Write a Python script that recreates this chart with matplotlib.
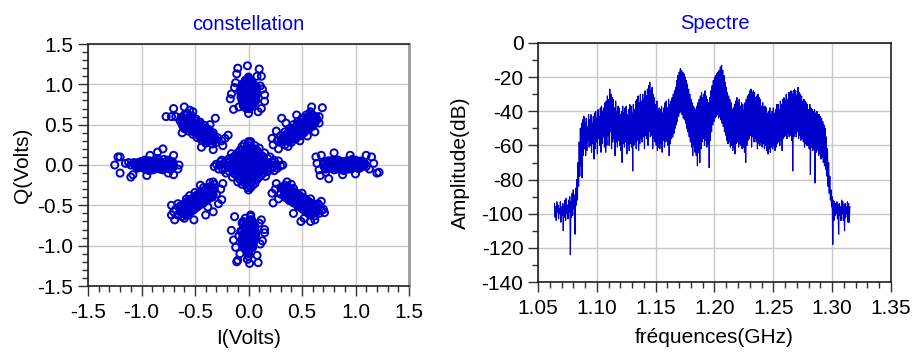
import numpy as np
import matplotlib
matplotlib.use("Agg")
import matplotlib.pyplot as plt
from matplotlib.ticker import MultipleLocator, FormatStrFormatter

plt.rcParams['font.family'] = ['Liberation Sans', 'DejaVu Sans']
plt.rcParams['axes.unicode_minus'] = False

# ---------------- constellation data (I, Q in Volts) ----------------
top_I = [0.00, -0.03, 0.03, 0.01, -0.05, 0.05, -0.02, 0.02, 0.00, -0.04, 0.04, 0.06, -0.06, 0.01, -0.01, 0.03, -0.03, 0.00, 0.02, -0.02,
         0.05, -0.05, 0.07, -0.07, 0.00, 0.03, -0.03, 0.01, -0.01, 0.04, -0.04, 0.02, -0.02, 0.00, 0.06, -0.06, 0.08, -0.08, 0.01, 0.00,
         -0.06, -0.04, -0.02, 0.00, 0.02, 0.04, 0.06, -0.05, -0.03, -0.01, 0.01, 0.03, 0.05, -0.06, -0.04, -0.02, 0.00, 0.02, 0.04, 0.06,
         -0.05, -0.03, -0.01, 0.01, 0.03, 0.05, -0.04, -0.02, 0.00, 0.02, 0.04, -0.03, 0.01, 0.03,
         -0.07, -0.05, -0.03, -0.01, 0.01, 0.03, 0.05, 0.07, -0.06, -0.02, 0.02, 0.06, -0.04, 0.00, 0.04, -0.07, 0.07, -0.01, 0.01, 0.00,
         -0.10, -0.01, 0.10, -0.11, 0.08, 0.12, -0.16, -0.17, 0.15, 0.15, -0.14, 0.00, 0.09, 0.12, -0.12, 0.11, -0.09, 0.13, -0.13]
top_Q = [0.85, 0.90, 0.80, 0.95, 0.86, 0.92, 1.00, 1.03, 0.75, 0.78, 0.74, 0.85, 0.96, 0.70, 0.72, 0.98, 1.05, 1.07, 0.88, 0.82,
         1.00, 0.74, 0.90, 0.88, 0.94, 0.86, 0.95, 0.78, 1.02, 0.82, 1.00, 0.92, 0.76, 0.80, 0.78, 0.82, 0.96, 0.92, 0.88, 0.98,
         0.80, 0.82, 0.84, 0.86, 0.88, 0.90, 0.92, 0.94, 0.96, 0.98, 1.00, 0.76, 0.78, 0.90, 0.92, 0.94, 0.76, 0.82, 0.86, 0.98,
         0.98, 0.86, 0.80, 0.90, 0.94, 0.84, 0.72, 0.70, 1.00, 0.74, 0.88, 1.04, 1.06, 1.02,
         0.84, 0.88, 0.93, 0.97, 0.83, 0.79, 0.97, 0.80, 1.00, 0.73, 0.96, 0.88, 0.91, 0.77, 0.79, 0.95, 0.85, 1.05, 0.72, 1.09,
         1.20, 1.23, 1.19, 1.13, 1.10, 1.10, 0.88, 0.82, 0.87, 0.79, 0.69, 0.64, 0.66, 0.70, 1.02, 0.98, 0.72, 0.94, 0.96]

bot_I = [0.00, 0.02, -0.02, 0.04, -0.04, 0.01, -0.01, 0.03, -0.03, 0.05, -0.05, 0.00, 0.02, -0.02, 0.06, -0.06, 0.01, -0.01, 0.00, 0.03,
         -0.03, 0.04, -0.04, 0.02, -0.02, 0.00, 0.05, -0.05, 0.07, -0.07, 0.01, -0.01, 0.03, -0.03, 0.00, 0.02,
         -0.05, -0.03, -0.01, 0.01, 0.03, 0.05, -0.04, -0.02, 0.00, 0.02, 0.04, -0.06, -0.04, -0.02, 0.00, 0.02, 0.04, 0.06,
         -0.05, -0.03, -0.01, 0.01, 0.03, 0.05, -0.04, -0.02, 0.00, 0.02, 0.04, -0.01, 0.01, 0.00,
         -0.07, -0.05, -0.03, -0.01, 0.01, 0.03, 0.05, 0.07, -0.06, -0.02, 0.02, 0.06, -0.04, 0.00, 0.04, -0.06, 0.06, -0.01, 0.01, 0.00,
         -0.11, -0.10, -0.01, 0.09, -0.16, -0.14, 0.15, 0.15, 0.12, -0.13, 0.10, -0.08, 0.08, -0.12, 0.11, -0.09, 0.13, 0.01]
bot_Q = [-0.70, -0.75, -0.72, -0.80, -0.78, -0.85, -0.82, -0.88, -0.90, -0.84, -0.86, -0.93, -0.95, -0.98, -0.76, -0.92, -1.00, -1.02, -1.05, -0.68,
         -0.66, -0.96, -0.99, -0.64, -0.88, -0.80, -0.74, -0.70, -0.90, -0.82, -0.92, -0.78, -1.03, -1.00, -1.08, -0.62,
         -0.72, -0.76, -0.80, -0.84, -0.88, -0.92, -0.96, -1.00, -0.70, -0.74, -0.78, -0.82, -0.86, -0.90, -0.94, -0.98, -1.02, -0.86,
         -0.74, -0.78, -0.92, -0.96, -1.00, -0.80, -0.88, -0.92, -0.84, -0.68, -0.98, -1.06, -1.04, -1.10,
         -0.82, -0.88, -0.94, -0.98, -0.73, -0.77, -0.90, -0.84, -0.96, -1.04, -0.70, -0.80, -1.02, -0.72, -0.94, -0.72, -0.90, -1.08, -0.95, -1.13,
         -1.20, -1.18, -1.17, -1.21, -0.81, -0.93, -0.80, -0.84, -0.68, -0.64, -0.72, -1.10, -1.12, -1.02, -0.98, -0.88, -0.94, -1.22]

right_I = [0.70, 0.74, 0.78, 0.82, 0.86, 0.90, 0.94, 0.98, 1.02, 1.06, 1.10, 0.72, 0.76, 0.80, 0.84, 0.88, 0.92, 0.96, 1.00, 1.04,
           1.08, 0.71, 0.75, 0.79, 0.83, 0.87, 0.91, 0.95, 0.99, 1.03, 0.73, 0.81, 0.89, 0.97, 1.05, 0.85, 0.93,
           0.70, 0.73, 0.76, 0.79, 0.82, 0.85, 0.88, 0.91, 0.94, 0.97, 1.00, 1.03, 1.06, 1.09,
           0.72, 0.75, 0.78, 0.81, 0.84, 0.87, 0.90, 0.93, 0.96, 0.99, 1.02, 1.05, 1.08, 0.77, 0.86, 0.95,
           0.71, 0.74, 0.77, 0.80, 0.83, 0.86, 0.89, 0.92, 0.95, 0.98, 1.01, 1.04, 1.07, 0.75, 0.84, 0.93, 1.02, 0.79, 0.88, 0.97,
           1.22, 1.20, 1.15, 1.10, 1.17, 0.75, 0.67, 0.63, 0.80, 0.68, 0.66, 0.95, 1.00, 0.88, 1.13, 0.72, 0.64]
right_Q = [0.00, 0.03, -0.03, 0.02, -0.02, 0.04, -0.04, 0.01, -0.01, 0.02, -0.02, -0.05, 0.05, -0.06, 0.06, 0.00, 0.05, -0.05, 0.06, -0.04,
           0.03, 0.04, -0.04, 0.05, -0.05, -0.03, 0.01, 0.03, -0.03, 0.00, -0.02, 0.00, -0.07, 0.07, 0.05, 0.00, -0.01,
           0.02, -0.02, 0.01, 0.03, -0.03, 0.02, 0.04, -0.01, 0.03, -0.03, 0.01, 0.03, -0.01, 0.01,
           -0.02, 0.01, -0.04, 0.00, -0.01, -0.04, -0.02, 0.03, -0.02, 0.02, -0.04, 0.03, -0.01, 0.00, 0.04, 0.00,
           -0.03, 0.05, 0.02, -0.03, 0.04, -0.02, 0.01, 0.05, -0.04, 0.00, 0.04, -0.03, 0.02, -0.01, 0.02, -0.05, 0.00, 0.06, -0.05, 0.05,
           -0.09, -0.10, 0.10, 0.12, 0.02, -0.17, -0.13, 0.10, 0.15, 0.12, -0.06, 0.12, -0.11, -0.12, -0.05, -0.09, 0.02]

left_I = [-0.70, -0.74, -0.78, -0.82, -0.86, -0.90, -0.94, -0.98, -1.02, -1.06, -1.10, -0.72, -0.76, -0.80, -0.84, -0.88, -0.92, -0.96, -1.00, -1.04,
          -0.71, -0.75, -0.79, -0.83, -0.87, -0.91, -0.95, -0.99, -1.03, -0.77, -0.85, -0.93, -0.81, -0.89, -0.97,
          -0.70, -0.73, -0.76, -0.79, -0.82, -0.85, -0.88, -0.91, -0.94, -0.97, -1.00, -1.03, -1.06,
          -0.72, -0.75, -0.78, -0.81, -0.84, -0.87, -0.90, -0.93, -0.96, -0.99, -1.02, -1.05, -0.80, -0.89, -0.98,
          -0.71, -0.74, -0.77, -0.80, -0.83, -0.86, -0.89, -0.92, -0.95, -0.98, -1.01, -1.04, -1.07, -0.75, -0.84, -0.93, -1.02, -0.79, -0.88, -0.97,
          -1.22, -1.20, -1.25, -1.20, -1.10, -1.12, -0.80, -0.70, -0.65, -0.70, -0.95, -0.92, -1.15, -0.66, -1.08, -0.85, -0.75]
left_Q = [0.00, 0.03, -0.03, 0.04, -0.02, 0.02, -0.04, 0.01, -0.01, 0.02, 0.00, -0.05, 0.05, -0.06, 0.06, 0.00, 0.05, -0.05, 0.04, -0.03,
          0.04, -0.04, 0.07, -0.05, 0.03, -0.03, 0.03, -0.02, 0.01, 0.00, 0.08, -0.07, 0.02, -0.06, 0.06,
          -0.02, 0.01, -0.01, 0.03, 0.01, -0.03, 0.03, -0.02, 0.02, 0.03, -0.02, 0.03, -0.01,
          0.02, 0.00, -0.02, -0.03, 0.02, -0.04, 0.04, 0.00, -0.03, 0.01, -0.03, 0.02, 0.00, 0.01, -0.04,
          0.02, -0.05, 0.04, 0.03, -0.03, 0.04, -0.05, 0.01, -0.01, 0.05, 0.04, -0.04, 0.03, 0.06, 0.00, 0.05, -0.02, -0.04, 0.03, -0.02,
          0.10, 0.10, 0.00, -0.10, -0.15, 0.03, 0.20, 0.12, 0.00, -0.12, -0.13, 0.12, 0.02, -0.05, -0.12, 0.16, -0.10]

ne_I = [0.30, 0.34, 0.38, 0.42, 0.46, 0.50, 0.54, 0.58, 0.62, 0.32, 0.36, 0.40, 0.44, 0.48, 0.52, 0.56, 0.60,
        0.34, 0.38, 0.42, 0.46, 0.50, 0.54, 0.58, 0.62, 0.30, 0.34, 0.38, 0.42, 0.46, 0.50, 0.54, 0.58,
        0.40, 0.44, 0.48, 0.52, 0.56, 0.60, 0.64,
        0.33, 0.37, 0.41, 0.45, 0.49, 0.53, 0.57, 0.61, 0.35, 0.39, 0.43, 0.47, 0.51, 0.55, 0.59,
        0.36, 0.40, 0.44, 0.48, 0.52, 0.56, 0.60, 0.31, 0.35, 0.39, 0.43, 0.47, 0.51, 0.55, 0.59, 0.63,
        0.32, 0.36, 0.40, 0.44, 0.48, 0.52, 0.56, 0.60, 0.34, 0.38, 0.42, 0.46, 0.50, 0.54, 0.58, 0.62, 0.37, 0.45, 0.53, 0.61,
        0.22, 0.23, 0.31, 0.59, 0.69, 0.62, 0.37, 0.28, 0.66, 0.26, 0.35, 0.48, 0.55, 0.66, 0.45, 0.27]
ne_Q = [0.28, 0.30, 0.34, 0.38, 0.42, 0.46, 0.50, 0.54, 0.58, 0.34, 0.38, 0.42, 0.46, 0.50, 0.54, 0.58, 0.62,
        0.25, 0.29, 0.33, 0.37, 0.40, 0.44, 0.48, 0.52, 0.36, 0.41, 0.45, 0.50, 0.54, 0.58, 0.62, 0.66,
        0.28, 0.32, 0.36, 0.40, 0.44, 0.48, 0.56,
        0.31, 0.35, 0.39, 0.43, 0.47, 0.51, 0.55, 0.59, 0.35, 0.40, 0.44, 0.48, 0.52, 0.56, 0.60,
        0.30, 0.35, 0.39, 0.43, 0.47, 0.51, 0.55, 0.31, 0.33, 0.37, 0.41, 0.45, 0.49, 0.53, 0.57, 0.60,
        0.29, 0.33, 0.37, 0.41, 0.45, 0.49, 0.53, 0.57, 0.37, 0.42, 0.46, 0.51, 0.56, 0.59, 0.63, 0.55, 0.31, 0.35, 0.43, 0.51,
        0.33, 0.25, 0.58, 0.72, 0.71, 0.41, 0.23, 0.20, 0.60, 0.42, 0.52, 0.30, 0.36, 0.52, 0.62, 0.30]

nw_I = [-0.30, -0.34, -0.38, -0.42, -0.46, -0.50, -0.54, -0.58, -0.62, -0.32, -0.36, -0.40, -0.44, -0.48, -0.52, -0.56, -0.60,
        -0.34, -0.38, -0.42, -0.46, -0.50, -0.54, -0.58, -0.62, -0.29, -0.33, -0.37, -0.41, -0.45, -0.49, -0.53, -0.57,
        -0.40, -0.44, -0.48, -0.52, -0.56, -0.60, -0.64,
        -0.33, -0.37, -0.41, -0.45, -0.49, -0.53, -0.57, -0.61, -0.35, -0.39, -0.43, -0.47, -0.51, -0.55, -0.59,
        -0.36, -0.40, -0.44, -0.48, -0.52, -0.56, -0.60, -0.31, -0.35, -0.39, -0.43, -0.47, -0.51, -0.55, -0.59, -0.63,
        -0.32, -0.36, -0.40, -0.44, -0.48, -0.52, -0.56, -0.60, -0.34, -0.38, -0.42, -0.46, -0.50, -0.54, -0.58, -0.62, -0.37, -0.45, -0.53, -0.61,
        -0.70, -0.77, -0.72, -0.60, -0.31, -0.19, -0.24, -0.33, -0.68, -0.55, -0.25, -0.44, -0.62, -0.36, -0.52, -0.22]
nw_Q = [0.28, 0.32, 0.35, 0.39, 0.42, 0.46, 0.50, 0.53, 0.57, 0.35, 0.39, 0.43, 0.47, 0.50, 0.54, 0.58, 0.62,
        0.26, 0.29, 0.33, 0.36, 0.40, 0.44, 0.47, 0.50, 0.34, 0.40, 0.44, 0.49, 0.53, 0.57, 0.61, 0.64,
        0.27, 0.31, 0.34, 0.38, 0.42, 0.45, 0.55,
        0.31, 0.34, 0.38, 0.41, 0.45, 0.48, 0.52, 0.55, 0.36, 0.40, 0.43, 0.47, 0.51, 0.54, 0.58,
        0.30, 0.34, 0.37, 0.41, 0.44, 0.48, 0.51, 0.32, 0.34, 0.36, 0.40, 0.44, 0.47, 0.52, 0.56, 0.59,
        0.30, 0.33, 0.37, 0.40, 0.44, 0.48, 0.51, 0.55, 0.38, 0.42, 0.46, 0.51, 0.55, 0.59, 0.62, 0.53, 0.31, 0.34, 0.42, 0.48,
        0.70, 0.60, 0.60, 0.72, 0.58, 0.37, 0.24, 0.19, 0.60, 0.68, 0.30, 0.22, 0.40, 0.50, 0.66, 0.33]

sw_I = [-0.32, -0.36, -0.40, -0.44, -0.48, -0.52, -0.56, -0.60, -0.64, -0.30, -0.34, -0.38, -0.42, -0.46, -0.50, -0.54, -0.58,
        -0.36, -0.40, -0.44, -0.48, -0.52, -0.56, -0.60, -0.64, -0.40, -0.44, -0.48, -0.52, -0.56, -0.62, -0.66,
        -0.32, -0.36, -0.42, -0.50, -0.58, -0.68, -0.66, -0.46,
        -0.34, -0.38, -0.42, -0.46, -0.50, -0.54, -0.58, -0.62, -0.33, -0.37, -0.41, -0.45, -0.49, -0.53, -0.57,
        -0.38, -0.42, -0.46, -0.50, -0.54, -0.58, -0.62, -0.35, -0.39, -0.43, -0.47, -0.51, -0.55, -0.59, -0.63, -0.60,
        -0.33, -0.37, -0.41, -0.45, -0.49, -0.53, -0.57, -0.61, -0.35, -0.39, -0.43, -0.47, -0.51, -0.55, -0.59, -0.63, -0.38, -0.46, -0.54, -0.62,
        -0.69, -0.72, -0.51, -0.33, -0.24, -0.25, -0.33, -0.70, -0.40, -0.28, -0.60, -0.72, -0.45, -0.26, -0.55, -0.38]
sw_Q = [-0.30, -0.33, -0.37, -0.40, -0.44, -0.47, -0.51, -0.54, -0.58, -0.36, -0.40, -0.43, -0.47, -0.50, -0.54, -0.58, -0.61,
        -0.27, -0.30, -0.34, -0.37, -0.41, -0.44, -0.48, -0.51, -0.44, -0.48, -0.52, -0.56, -0.62, -0.64, -0.62,
        -0.24, -0.22, -0.28, -0.34, -0.42, -0.55, -0.48, -0.42,
        -0.32, -0.35, -0.39, -0.42, -0.46, -0.49, -0.53, -0.56, -0.37, -0.41, -0.45, -0.48, -0.52, -0.56, -0.59,
        -0.29, -0.32, -0.36, -0.39, -0.43, -0.46, -0.50, -0.36, -0.38, -0.41, -0.44, -0.49, -0.52, -0.55, -0.55, -0.58,
        -0.28, -0.31, -0.35, -0.38, -0.42, -0.45, -0.49, -0.52, -0.38, -0.42, -0.46, -0.50, -0.55, -0.59, -0.62, -0.55, -0.33, -0.40, -0.48, -0.58,
        -0.68, -0.50, -0.68, -0.21, -0.23, -0.43, -0.58, -0.58, -0.62, -0.48, -0.66, -0.62, -0.25, -0.30, -0.38, -0.52]

se_I = [0.32, 0.36, 0.40, 0.44, 0.48, 0.52, 0.56, 0.60, 0.64, 0.30, 0.34, 0.38, 0.42, 0.46, 0.50, 0.54, 0.58,
        0.36, 0.40, 0.44, 0.48, 0.52, 0.56, 0.60, 0.64, 0.40, 0.44, 0.48, 0.52, 0.56, 0.62, 0.66,
        0.30, 0.34, 0.42, 0.50, 0.58, 0.68, 0.66, 0.46,
        0.34, 0.38, 0.42, 0.46, 0.50, 0.54, 0.58, 0.62, 0.33, 0.37, 0.41, 0.45, 0.49, 0.53, 0.57,
        0.38, 0.42, 0.46, 0.50, 0.54, 0.58, 0.62, 0.35, 0.39, 0.43, 0.47, 0.51, 0.55, 0.59, 0.63, 0.60,
        0.33, 0.37, 0.41, 0.45, 0.49, 0.53, 0.57, 0.61, 0.35, 0.39, 0.43, 0.47, 0.51, 0.55, 0.59, 0.63, 0.38, 0.46, 0.54, 0.62,
        0.22, 0.23, 0.26, 0.36, 0.71, 0.49, 0.58, 0.65, 0.28, 0.70, 0.42, 0.62, 0.25, 0.52, 0.40, 0.68]
se_Q = [-0.30, -0.34, -0.37, -0.41, -0.44, -0.48, -0.51, -0.55, -0.58, -0.36, -0.40, -0.44, -0.47, -0.51, -0.54, -0.58, -0.62,
        -0.27, -0.31, -0.34, -0.38, -0.41, -0.45, -0.48, -0.52, -0.43, -0.47, -0.51, -0.55, -0.60, -0.63, -0.60,
        -0.28, -0.25, -0.29, -0.35, -0.42, -0.56, -0.50, -0.42,
        -0.32, -0.36, -0.39, -0.43, -0.46, -0.50, -0.53, -0.57, -0.38, -0.42, -0.45, -0.49, -0.53, -0.56, -0.60,
        -0.29, -0.33, -0.36, -0.40, -0.43, -0.47, -0.50, -0.35, -0.39, -0.41, -0.45, -0.48, -0.52, -0.55, -0.56, -0.58,
        -0.28, -0.32, -0.35, -0.39, -0.42, -0.46, -0.49, -0.53, -0.38, -0.43, -0.46, -0.50, -0.55, -0.59, -0.61, -0.55, -0.33, -0.40, -0.48, -0.58,
        -0.35, -0.47, -0.23, -0.21, -0.59, -0.70, -0.70, -0.48, -0.42, -0.55, -0.60, -0.68, -0.30, -0.66, -0.24, -0.45]

ctr_I = [0.00, 0.04, -0.04, 0.08, -0.08, 0.00, 0.00, 0.05, -0.05, 0.05, -0.05,
         0.12, -0.12, 0.02, -0.02, 0.10, -0.10, 0.10, -0.10, 0.07, -0.07, 0.07, -0.07,
         0.16, -0.16, 0.00, 0.00, 0.14, -0.14, 0.14, -0.14, 0.03, -0.03, -0.03, 0.03,
         0.20, -0.20, 0.23, -0.23, 0.00, 0.00, 0.26, -0.27, 0.01, -0.01,
         0.30, -0.30, 0.00, 0.00,
         0.18, -0.18, 0.18, -0.18, 0.08, -0.08, 0.08, -0.08,
         0.24, -0.24, 0.24, -0.25, 0.06, -0.06, 0.06, -0.06,
         0.12, -0.12, 0.12, -0.12, 0.28, -0.28, 0.32, -0.32,
         0.15, -0.15, 0.16, -0.16, 0.20, -0.21, 0.10, -0.10,
         0.02, -0.02, 0.03, -0.03, 0.06, -0.06, 0.01, -0.01, 0.09, -0.09, 0.03, -0.03, 0.09, -0.09, 0.04, -0.04,
         0.12, -0.12, 0.12, -0.12, 0.05, -0.05, 0.05, -0.05, 0.18, -0.18, 0.18, -0.18, 0.02, -0.02, 0.02, -0.02,
         0.22, -0.22, 0.21, -0.21, 0.04, -0.04, 0.04, -0.04, 0.14, -0.14, 0.14, -0.14, 0.10, -0.10, 0.10, -0.10,
         0.27, -0.26, 0.02, 0.02,
         0.01, -0.01, 0.04, -0.04, 0.07, -0.07, 0.02, -0.02, 0.11, -0.11, 0.01, -0.01, 0.15, -0.15, 0.06, -0.06, 0.08, -0.08, 0.13, -0.13]
ctr_Q = [0.00, 0.02, -0.02, 0.00, 0.01, 0.06, -0.06, -0.05, 0.05, 0.06, -0.06,
         0.02, -0.02, 0.12, -0.12, 0.07, -0.07, -0.06, 0.06, 0.11, -0.11, -0.11, 0.11,
         0.00, 0.00, 0.16, -0.16, 0.05, -0.05, -0.04, 0.04, 0.20, -0.20, 0.19, -0.21,
         0.01, -0.01, -0.02, 0.02, 0.24, -0.25, 0.01, 0.00, 0.27, -0.28,
         -0.01, 0.01, 0.29, -0.31,
         0.08, -0.08, -0.08, 0.08, 0.18, -0.18, -0.18, 0.18,
         0.06, -0.06, -0.07, 0.06, 0.24, -0.24, -0.23, 0.23,
         0.12, -0.12, -0.12, 0.12, 0.05, -0.05, 0.00, -0.02,
         0.15, -0.15, -0.14, 0.14, 0.10, -0.10, 0.21, -0.21,
         0.03, 0.04, -0.03, -0.02, 0.01, -0.01, 0.08, -0.08, 0.03, -0.03, 0.09, -0.09, -0.03, 0.03, -0.09, 0.09,
         0.07, -0.07, -0.07, 0.07, 0.14, -0.14, -0.14, 0.14, 0.03, -0.03, -0.03, 0.03, 0.18, -0.18, -0.22, 0.22,
         0.04, -0.04, -0.05, 0.05, 0.21, -0.22, -0.25, 0.26, 0.10, -0.10, -0.10, 0.10, 0.14, -0.14, -0.15, 0.15,
         -0.04, 0.04, 0.29, -0.28,
         0.04, -0.04, 0.07, -0.07, 0.03, -0.03, 0.15, -0.15, 0.00, 0.00, 0.11, -0.11, 0.02, -0.02, 0.17, -0.17, -0.13, 0.13, -0.07, 0.07]

# ---------------- spectrum data (dB), sampled every 0.5 MHz ----------------
f_start, f_stop = 1.064, 1.315   # GHz
amp_dB = [
    -94, -102, -96, -104, -93, -99, -95, -103, -97, -100,
    -93, -105, -96, -101, -94, -110, -95, -102, -92, -104,
    -91, -100, -95, -103, -92, -99, -90, -124, -93, -102,
    -88, -101, -86, -97, -89, -112, -85, -95, -80, -92,
    -70, -84, -58, -78, -50, -72, -47, -79, -45, -66,
    -43, -62, -47, -66, -44, -63, -49, -57, -42, -61,
    -45, -60, -42, -64, -47, -59, -43, -68, -41, -62,
    -40, -58, -44, -65, -39, -56, -43, -60, -38, -64,
    -37, -59, -40, -55, -38, -61, -35, -64, -34, -60,
    -31, -54, -33, -60, -27, -52, -30, -62, -32, -58,
    -33, -56, -38, -66, -34, -58, -40, -61, -37, -57,
    -38, -60, -42, -63, -40, -70, -37, -59, -41, -61,
    -38, -58, -37, -65, -42, -60, -39, -63, -36, -59,
    -37, -61, -41, -75, -36, -60, -39, -58, -34, -62,
    -33, -57, -31, -63, -35, -59, -30, -56, -34, -58,
    -30, -55, -33, -62, -28, -54, -31, -56, -27, -60,
    -25, -52, -23, -55, -28, -54, -26, -62, -30, -56,
    -32, -58, -36, -60, -34, -63, -40, -61, -38, -62,
    -39, -59, -37, -64, -41, -57, -38, -61, -35, -58,
    -34, -57, -38, -60, -33, -66, -36, -59, -34, -56,
    -32, -55, -30, -53, -28, -50, -26, -48, -22, -46,
    -19, -43, -17, -41, -15, -40, -16, -42, -17, -44,
    -18, -45, -20, -47, -22, -50, -24, -52, -27, -55,
    -30, -58, -33, -61, -35, -66, -37, -60, -38, -64,
    -39, -66, -37, -72, -35, -64, -33, -70, -31, -62,
    -29, -58, -32, -56, -30, -60, -28, -57, -31, -61,
    -33, -59, -35, -73, -32, -57, -28, -52, -25, -48,
    -22, -46, -20, -44, -19, -43, -18, -42, -17, -44,
    -16, -43, -14, -45, -13, -47, -16, -49, -19, -52,
    -23, -54, -26, -57, -29, -59, -31, -58, -33, -61,
    -35, -60, -39, -63, -38, -61, -36, -65, -34, -59,
    -32, -58, -35, -61, -33, -59, -37, -60, -35, -62,
    -36, -61, -39, -64, -35, -70, -33, -60, -31, -57,
    -30, -56, -28, -54, -27, -61, -29, -55, -28, -58,
    -29, -56, -32, -58, -31, -62, -30, -59, -32, -60,
    -33, -58, -37, -61, -35, -59, -38, -62, -37, -60,
    -38, -63, -41, -65, -40, -62, -38, -64, -42, -61,
    -40, -62, -38, -60, -41, -63, -39, -61, -36, -59,
    -36, -58, -39, -60, -34, -57, -36, -63, -33, -56,
    -32, -55, -34, -54, -30, -56, -33, -53, -29, -55,
    -29, -54, -28, -57, -30, -75, -28, -55, -27, -53,
    -28, -55, -31, -52, -26, -56, -29, -54, -30, -57,
    -31, -56, -34, -58, -33, -61, -34, -59, -35, -60,
    -36, -60, -39, -62, -36, -77, -38, -61, -39, -63,
    -40, -62, -39, -82, -41, -64, -40, -63, -42, -66,
    -42, -65, -43, -68, -44, -67, -46, -70, -48, -72,
    -50, -74, -55, -78, -62, -84, -70, -88, -78, -92,
    -86, -96, -90, -118, -92, -104, -93, -101, -94, -100,
    -93, -103, -95, -112, -94, -101, -96, -104, -92, -100,
    -93, -104, -95, -110, -94, -102, -96, -100, -93, -105,
    -94, -105, -96,
]
freq = np.linspace(f_start, f_stop, len(amp_dB))

blue = '#0000cc'
title_blue = '#0000e0'

fig = plt.figure(figsize=(9.15, 3.52), dpi=100)
ax1 = fig.add_axes([88/915, 1-286/352, (409-88)/915, (286-44)/352])
ax2 = fig.add_axes([538/915, 1-282/352, (891-538)/915, (282-43)/352])

clusters = [(top_I, top_Q), (bot_I, bot_Q), (right_I, right_Q), (left_I, left_Q),
            (ne_I, ne_Q), (nw_I, nw_Q), (sw_I, sw_Q), (se_I, se_Q), (ctr_I, ctr_Q)]
for ci, cq in clusters:
    ax1.scatter(ci, cq, s=26, facecolors='none', edgecolors=blue, linewidths=1.4, zorder=3)

ax2.plot(freq, amp_dB, color=blue, lw=0.85, zorder=3)

def style(ax):
    ax.grid(True, which='major', color='#c8c8c8', lw=1.0, zorder=0)
    ax.set_axisbelow(True)
    ax.tick_params(which='major', direction='out', length=7.5, width=1.0, labelsize=15, pad=3, color='#303030')
    ax.tick_params(axis='x', which='major', pad=5)
    ax.tick_params(which='minor', direction='out', length=4, width=1.0, color='#303030')
    for s in ['left', 'bottom', 'top']:
        ax.spines[s].set_color('#202020')
        ax.spines[s].set_linewidth(1.2)

style(ax1)
ax1.set_xlim(-1.5, 1.5)
ax1.set_ylim(-1.5, 1.5)
ax1.xaxis.set_major_locator(MultipleLocator(0.5))
ax1.xaxis.set_minor_locator(MultipleLocator(0.1))
ax1.yaxis.set_major_locator(MultipleLocator(0.5))
ax1.yaxis.set_minor_locator(MultipleLocator(0.1))
ax1.xaxis.set_major_formatter(FormatStrFormatter('%.1f'))
ax1.yaxis.set_major_formatter(FormatStrFormatter('%.1f'))
ax1.spines['right'].set_color('#9a9a9a')
ax1.spines['right'].set_linewidth(2.0)
ax1.set_title('constellation', color=title_blue, fontsize=14.5, pad=10)
ax1.set_xlabel('I(Volts)', fontsize=15, labelpad=5)
ax1.set_ylabel('Q(Volts)', fontsize=15, labelpad=4)

style(ax2)
ax2.set_xlim(1.05, 1.35)
ax2.set_ylim(-140, 0)
ax2.xaxis.set_major_locator(MultipleLocator(0.05))
ax2.xaxis.set_minor_locator(MultipleLocator(0.01))
ax2.yaxis.set_major_locator(MultipleLocator(20))
ax2.yaxis.set_minor_locator(MultipleLocator(10))
ax2.xaxis.set_major_formatter(FormatStrFormatter('%.2f'))
ax2.spines['right'].set_color('#202020')
ax2.spines['right'].set_linewidth(1.2)
ax2.set_title('Spectre', color=title_blue, fontsize=14.5, pad=10)
ax2.set_xlabel('fréquences(GHz)', fontsize=15, labelpad=7)
ax2.set_ylabel('Amplitude(dB)', fontsize=15, labelpad=8)

fig.savefig('out.png', dpi=100)
